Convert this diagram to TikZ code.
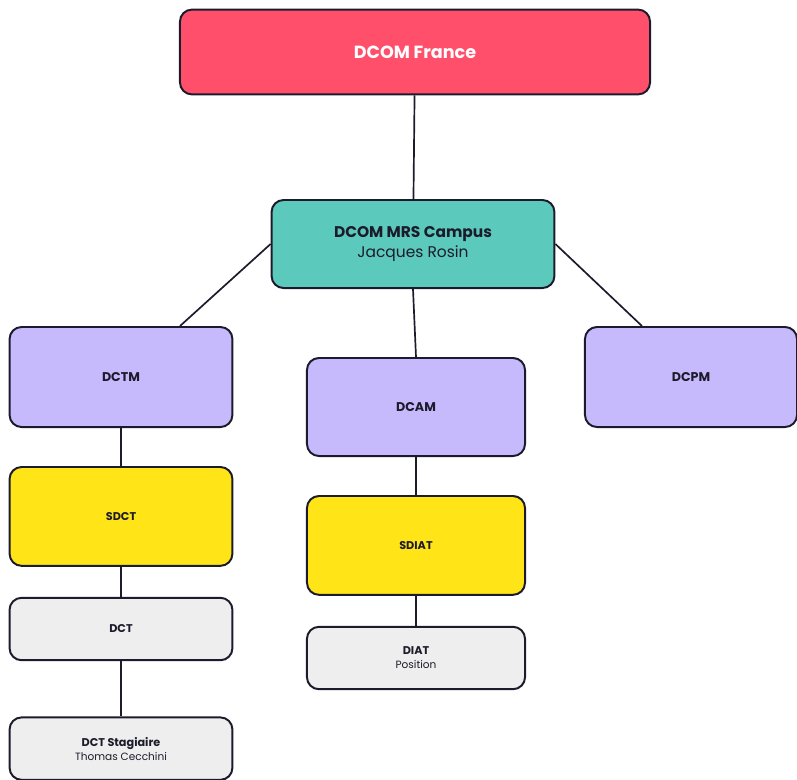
\documentclass[tikz,border=0pt]{standalone}
\usepackage{fontspec}
\setmainfont{Poppins}
\usetikzlibrary{positioning, calc}

\definecolor{dcomred}{HTML}{FF4F6B}
\definecolor{campusteal}{HTML}{5CC9BD}
\definecolor{dirlilac}{HTML}{C6BAFD}
\definecolor{subyellow}{HTML}{FFE417}
\definecolor{unitgray}{HTML}{EEEEEE}
\definecolor{inkdark}{HTML}{1C1B2B}

\begin{document}
\begin{tikzpicture}[
    x=0.025cm, y=-0.025cm,
    box/.style={rectangle, draw=inkdark, line width=1.4pt, rounded corners=3mm, align=center, text=inkdark},
    topbox/.style={box, fill=dcomred, text=white, minimum width=11.75cm, minimum height=2.12cm, font=\fontsize{12.5}{15}\selectfont\bfseries},
    campusbox/.style={box, fill=campusteal, minimum width=7.07cm, minimum height=2.2cm, font=\fontsize{11}{14}\selectfont},
    dirbox/.style={box, fill=dirlilac, minimum height=2.5cm, font=\fontsize{9}{11}\selectfont\bfseries},
    subbox/.style={box, fill=subyellow, minimum height=2.47cm, font=\fontsize{8}{10}\selectfont\bfseries},
    unitbox/.style={box, fill=unitgray, minimum height=1.56cm, font=\fontsize{8}{10}\selectfont},
    link/.style={draw=inkdark, line width=1.2pt}
]
\useasboundingbox (0,0) rectangle (797,779);

% Top level
\node[topbox] (france) at (415,52) {DCOM France};
\node[campusbox] (campus) at (413,244) {\textbf{DCOM MRS Campus}\\Jacques Rosin};

% Directions
\node[dirbox, minimum width=5.57cm] (dctm) at (121,377) {DCTM};
\node[dirbox, minimum width=5.45cm, minimum height=2.45cm] (dcam) at (416,407) {DCAM};
\node[dirbox, minimum width=5.3cm] (dcpm) at (691,377) {DCPM};

% Left branch
\node[subbox, minimum width=5.57cm, below=0.95cm of dctm] (sdct) {SDCT};
\node[unitbox, minimum width=5.57cm, below=0.75cm of sdct] (dct) {\textbf{DCT}};
\node[unitbox, minimum width=5.57cm, below=1.38cm of dct] (stagiaire) {\textbf{DCT Stagiaire}\\\fontsize{7.5}{9}\selectfont Thomas Cecchini};

% Middle branch
\node[subbox, minimum width=5.45cm, below=0.95cm of dcam] (sdiat) {SDIAT};
\node[unitbox, minimum width=5.45cm, below=0.75cm of sdiat] (diat) {\textbf{DIAT}\\\fontsize{7.5}{9}\selectfont Position};

% Links
\draw[link] (france) -- (campus);
\draw[link] (campus.west) -- ($(dctm.north)+(59,0)$);
\draw[link] (campus.south) -- (dcam.north);
\draw[link] (campus.east) -- ($(dcpm.north west)+(58,0)$);
\draw[link] (dctm) -- (sdct);
\draw[link] (sdct) -- (dct);
\draw[link] (dct) -- (stagiaire);
\draw[link] (dcam) -- (sdiat);
\draw[link] (sdiat) -- (diat);

\end{tikzpicture}
\end{document}
